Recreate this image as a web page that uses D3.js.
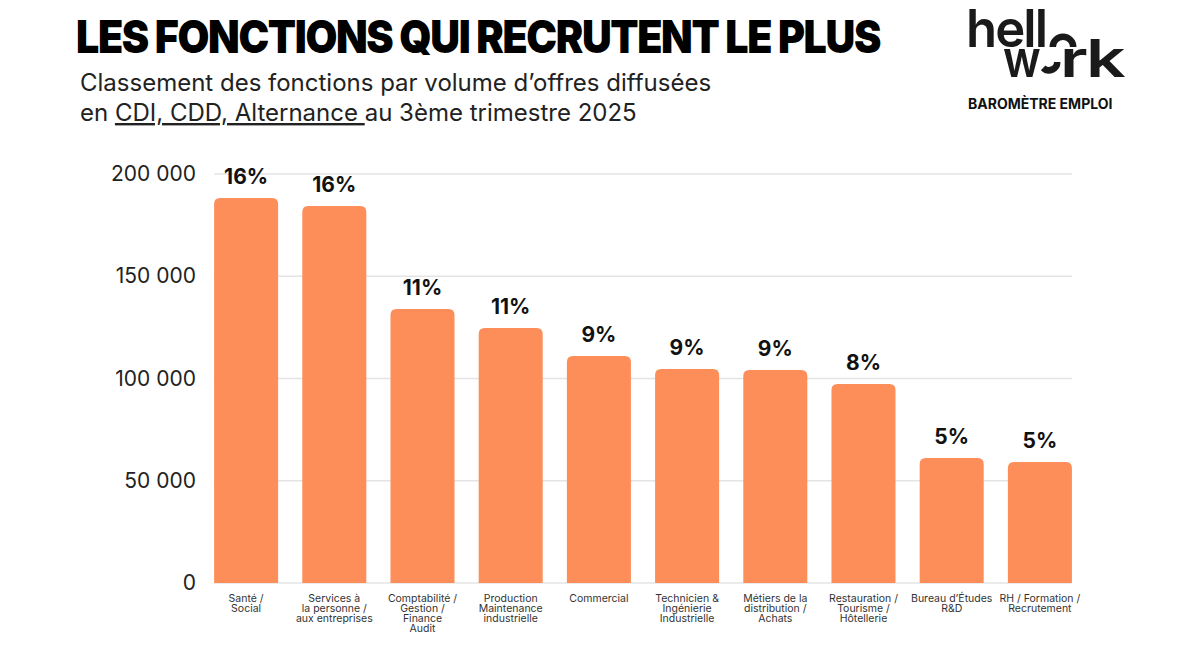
<!DOCTYPE html>
<html>
<head>
<meta charset="utf-8">
<script src="https://cdn.jsdelivr.net/npm/d3@7"></script>
<style>
  body { margin: 0; background: #fff; }
  svg { display: block; font-family: Inter, "Noto Sans", sans-serif; }
</style>
</head>
<body>
<script>
// Données
const categories = [
    ["Santé /", "Social"],
    ["Services à", "la personne /", "aux entreprises"],
    ["Comptabilité /", "Gestion /", "Finance", "Audit"],
    ["Production", "Maintenance", "industrielle"],
    ["Commercial"],
    ["Technicien &", "Ingénierie", "Industrielle"],
    ["Métiers de la", "distribution /", "Achats"],
    ["Restauration /", "Tourisme /", "Hôtellerie"],
    ["Bureau d’Études", "R&D"],
    ["RH / Formation /", "Recrutement"],
];
const offres = [188300, 184400, 134000, 124700, 111000, 104700, 104200, 97300, 61100, 59200];
const parts = ["16%", "16%", "11%", "11%", "9%", "9%", "9%", "8%", "5%", "5%"];
const yTicks = [0, 50000, 100000, 150000, 200000];

const width = 1200, height = 646;
const ORANGE = "#fe8e59";

const svg = d3.select("body").append("svg")
    .attr("width", width)
    .attr("height", height);

// Titre
svg.append("text")
    .attr("x", 76)
    .attr("y", 53)
    .attr("font-size", 45)
    .attr("font-weight", 900)
    .attr("letter-spacing", -1.5)
    .attr("textLength", 804)
    .attr("lengthAdjust", "spacingAndGlyphs")
    .attr("fill", "#000")
    .text("LES FONCTIONS QUI RECRUTENT LE PLUS");

// Sous-titre
const sub = svg.append("g").attr("fill", "#222").attr("font-size", 24);
sub.append("text")
    .attr("x", 80).attr("y", 91)
    .text("Classement des fonctions par volume d’offres diffusées");
const l2 = sub.append("text").attr("x", 80).attr("y", 121);
l2.append("tspan").text("en ");
l2.append("tspan").attr("text-decoration", "underline").text("CDI, CDD, Alternance ");
l2.append("tspan").text("au 3ème trimestre 2025");

// Logo hellowork
const logo = svg.append("g").attr("fill", "#1a1a1a");
logo.append("text")
    .attr("x", 966).attr("y", 47)
    .attr("font-size", 52).attr("font-weight", 600)
    .attr("letter-spacing", -2)
    .attr("textLength", 80).attr("lengthAdjust", "spacingAndGlyphs")
    .text("hell");
logo.append("text")
    .attr("x", 1003).attr("y", 77)
    .attr("font-size", 52).attr("font-weight", 600)
    .attr("letter-spacing", -2)
    .attr("textLength", 36).attr("lengthAdjust", "spacingAndGlyphs")
    .text("w");
logo.append("text")
    .attr("x", 1060).attr("y", 77)
    .attr("font-size", 52).attr("font-weight", 600)
    .attr("letter-spacing", -2)
    .attr("textLength", 63).attr("lengthAdjust", "spacingAndGlyphs")
    .text("rk");
// le "o" coupé en deux arcs
logo.append("path")
    .attr("d", d3.arc().innerRadius(7).outerRadius(13.5).startAngle(-Math.PI / 2).endAngle(Math.PI / 2)())
    .attr("transform", "translate(1063,47)");
logo.append("path")
    .attr("d", d3.arc().innerRadius(5).outerRadius(11.5).startAngle(Math.PI / 2).endAngle(Math.PI * 1.25)())
    .attr("transform", "translate(1049,62)");

svg.append("text")
    .attr("x", 968).attr("y", 109)
    .attr("font-size", 14).attr("font-weight", 700)
    .attr("fill", "#111")
    .text("BAROMÈTRE EMPLOI");

// Echelles
const x = d3.scaleBand()
    .domain(d3.range(categories.length))
    .range([202, 1084])
    .paddingInner(0.274)
    .paddingOuter(0.137);

const y = d3.scaleLinear()
    .domain([0, 200000])
    .range([583, 174]);

const fmt = (v) => d3.format(",")(v).replace(/,/g, " ");

// Grille
svg.append("g")
    .selectAll("line")
    .data(yTicks)
    .join("line")
    .attr("x1", x(0))
    .attr("x2", x(categories.length - 1) + x.bandwidth())
    .attr("y1", (d) => y(d))
    .attr("y2", (d) => y(d))
    .attr("stroke", "#e4e4e4")
    .attr("stroke-width", 1.5);

// Axe Y
const yAxis = svg.append("g")
    .attr("transform", "translate(196,0)")
    .call(d3.axisLeft(y).tickValues(yTicks).tickFormat(fmt).tickSize(0).tickPadding(0));
yAxis.select(".domain").remove();
yAxis.selectAll("text")
    .attr("font-size", 21)
    .attr("font-family", "Inter, sans-serif")
    .attr("fill", "#222");

// Barres (coins supérieurs arrondis)
const r = 6;
const barPath = (d, i) => {
    const x0 = x(i), x1 = x(i) + x.bandwidth();
    const y0 = y(d), yb = y(0);
    return `M${x0},${yb} L${x0},${y0 + r} Q${x0},${y0} ${x0 + r},${y0} L${x1 - r},${y0} Q${x1},${y0} ${x1},${y0 + r} L${x1},${yb} Z`;
};

svg.append("g")
    .selectAll("path")
    .data(offres)
    .join("path")
    .attr("d", barPath)
    .attr("fill", ORANGE);

// Etiquettes de pourcentage
svg.append("g")
    .selectAll("text")
    .data(offres)
    .join("text")
    .attr("x", (d, i) => x(i) + x.bandwidth() / 2)
    .attr("y", (d) => y(d) - 14)
    .attr("text-anchor", "middle")
    .attr("font-size", 21)
    .attr("font-weight", 700)
    .attr("fill", "#111")
    .text((d, i) => parts[i]);

// Libellés des catégories
const labels = svg.append("g")
    .selectAll("text")
    .data(categories)
    .join("text")
    .attr("text-anchor", "middle")
    .attr("font-size", 10.5)
    .attr("fill", "#333")
    .attr("transform", (d, i) => `translate(${x(i) + x.bandwidth() / 2},602)`);

labels.selectAll("tspan")
    .data((d) => d)
    .join("tspan")
    .attr("x", 0)
    .attr("dy", (d, j) => (j == 0 ? 0 : 10))
    .text((d) => d);
</script>
</body>
</html>
